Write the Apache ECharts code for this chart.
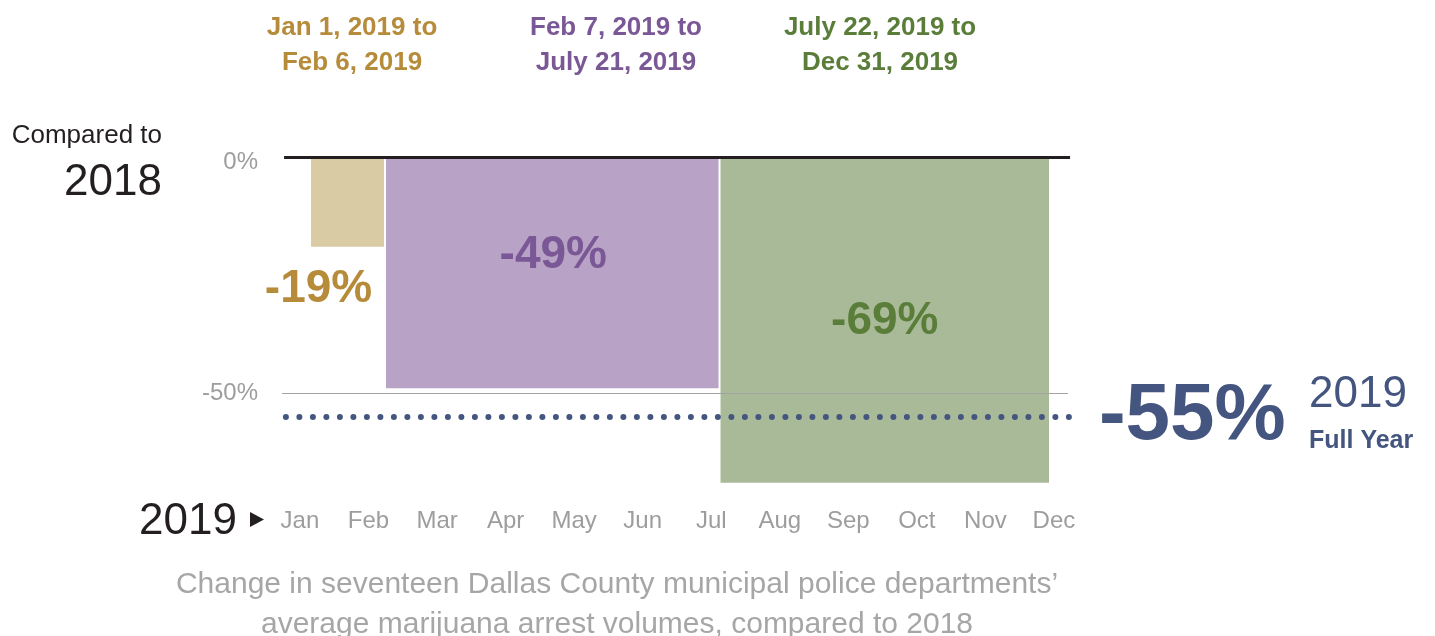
<!DOCTYPE html>
<html>
<head>
<meta charset="utf-8">
<script src="https://cdn.jsdelivr.net/npm/echarts@6/dist/echarts.min.js"></script>
<style>
  html, body { margin: 0; padding: 0; background: #fff; }
  #chart { width: 1435px; height: 636px; }
</style>
</head>
<body>
<div id="chart"></div>
<script>
// periods in day-of-year (2019), start/end, and change vs 2018 (%)
const periodLabels = ['Jan 1, 2019 to\nFeb 6, 2019', 'Feb 7, 2019 to\nJuly 21, 2019', 'July 22, 2019 to\nDec 31, 2019']
const periodStart = [0, 37, 202]
const periodEnd = [37, 202, 365]
const periodChange = [-19, -49, -69]
const fullYearChange = -55
const months = ['Jan', 'Feb', 'Mar', 'Apr', 'May', 'Jun', 'Jul', 'Aug', 'Sep', 'Oct', 'Nov', 'Dec']
const yTicks = [0, -50]

// styles
const FONT = "'Liberation Sans', Arial, sans-serif"
const fills = ['#d9cba3', '#b8a2c6', '#a8ba98']
const inks = ['#b68b3a', '#7a5896', '#5b7d3a']
const BLUE = '#44557f'
// label offset from bar centre / bar top
const labelOffsets = [[-29, 132], [1, 98], [0, 164]]
const headerX = [352, 616, 880]

const chart = echarts.init(document.getElementById('chart'))

const barData = periodStart.map((s, i) => [s, periodEnd[i], periodChange[i]])

const graphics = []
periodLabels.forEach((t, i) => {
  graphics.push({
    type: 'text', x: headerX[i], y: 45,
    style: { text: t, font: 'bold 26px ' + FONT, fill: inks[i], align: 'center', verticalAlign: 'middle', lineHeight: 35 }
  })
})
graphics.push(
  { type: 'text', x: 162, y: 136, style: { text: 'Compared to', font: '26px ' + FONT, fill: '#231f20', align: 'right', verticalAlign: 'middle' } },
  { type: 'text', x: 162, y: 183, style: { text: '2018', font: '44px ' + FONT, fill: '#231f20', align: 'right', verticalAlign: 'middle' } },
  { type: 'text', x: 237, y: 522, style: { text: '2019', font: '44px ' + FONT, fill: '#231f20', align: 'right', verticalAlign: 'middle' } },
  { type: 'polygon', shape: { points: [[250, 512], [250, 527], [264, 519.5]] }, style: { fill: '#231f20' } },
  { type: 'text', x: 1309, y: 395, style: { text: '2019', font: '44px ' + FONT, fill: BLUE, align: 'left', verticalAlign: 'middle' } },
  { type: 'text', x: 1309, y: 441, style: { text: 'Full Year', font: 'bold 25px ' + FONT, fill: BLUE, align: 'left', verticalAlign: 'middle' } },
  {
    type: 'text', x: 617, y: 605,
    style: {
      text: 'Change in seventeen Dallas County municipal police departments\u2019\naverage marijuana arrest volumes, compared to 2018',
      font: '30px ' + FONT, fill: '#a6a6a6', align: 'center', verticalAlign: 'middle', lineHeight: 40
    }
  }
)

const option = {
  animation: false,
  backgroundColor: '#fff',
  grid: [
    { left: 280, right: 355, top: 157, height: 330.4 },
    { left: 265.7, width: 822.5, top: 490, height: 10 }
  ],
  xAxis: [
    {
      type: 'value', gridIndex: 0, min: -14.8, max: 379.8,
      axisLine: { show: false }, axisTick: { show: false }, axisLabel: { show: false }, splitLine: { show: false }
    },
    {
      type: 'category', gridIndex: 1, data: months, boundaryGap: true,
      axisLine: { show: false }, axisTick: { show: false }, splitLine: { show: false },
      axisLabel: { color: '#9d9d9d', fontSize: 24, fontFamily: FONT, margin: 9 }
    }
  ],
  yAxis: [
    {
      type: 'value', gridIndex: 0, min: -70, max: 0, interval: 10,
      axisLine: { show: false }, axisTick: { show: false }, splitLine: { show: false },
      axisLabel: {
        color: '#9d9d9d', fontSize: 24, fontFamily: FONT, margin: 22,
        formatter: v => (v === 0 ? '{z|0%}' : yTicks.indexOf(v) >= 0 ? v + '%' : ''),
        rich: { z: { color: '#9d9d9d', fontSize: 24, fontFamily: FONT, padding: [11, 0, 0, 0] } }
      }
    },
    { type: 'value', gridIndex: 1, show: false }
  ],
  graphic: graphics,
  series: [
    {
      type: 'custom',
      xAxisIndex: 0,
      yAxisIndex: 0,
      data: barData,
      renderItem(params, api) {
        const i = params.dataIndex
        const p0 = api.coord([api.value(0), 0])
        const p1 = api.coord([api.value(1), api.value(2)])
        const cx = (p0[0] + p1[0]) / 2
        return {
          type: 'group',
          children: [
            {
              type: 'rect',
              shape: { x: p0[0] + 1, y: p0[1], width: p1[0] - p0[0] - 2, height: p1[1] - p0[1] },
              style: { fill: fills[i] }
            },
            {
              type: 'text',
              x: cx + labelOffsets[i][0],
              y: p0[1] + labelOffsets[i][1],
              style: {
                text: api.value(2) + '%', font: 'bold 46px ' + FONT, fill: inks[i],
                align: 'center', verticalAlign: 'middle'
              }
            }
          ]
        }
      },
      markLine: {
        silent: true,
        symbol: ['none', 'none'],
        label: { show: false },
        data: [
          [
            { coord: [-13.8, -50], lineStyle: { color: '#a3a3a3', width: 1.2, type: 'solid' } },
            { coord: [373.9, -50] }
          ],
          [
            { coord: [-12.8, 0], lineStyle: { color: '#231f20', width: 3, type: 'solid' } },
            { coord: [374.9, 0] }
          ],
          [
            {
              coord: [-11.9, fullYearChange],
              lineStyle: { color: BLUE, width: 6, type: [0, 13.5], cap: 'round' },
              label: {
                show: true, position: 'end', distance: 26,
                formatter: fullYearChange + '%',
                color: BLUE, fontSize: 80, fontWeight: 'bold', fontFamily: FONT
              }
            },
            { coord: [376.3, fullYearChange] }
          ]
        ]
      }
    }
  ]
}

chart.setOption(option)
</script>
</body>
</html>
